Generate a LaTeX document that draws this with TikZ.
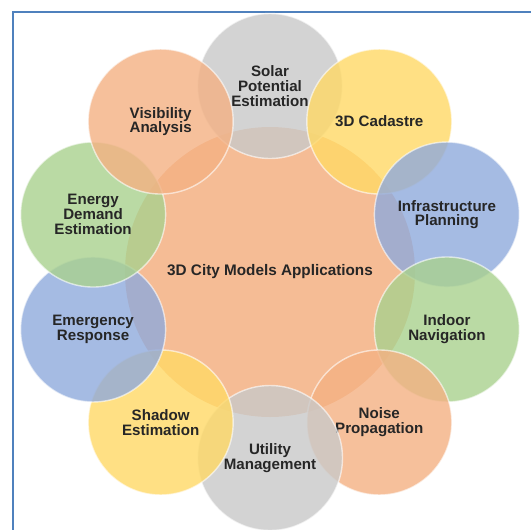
\documentclass[tikz,border=0pt]{standalone}
\usepackage{fontspec}
\setmainfont{Liberation Sans}
\usetikzlibrary{shapes.geometric}
\definecolor{appOrange}{HTML}{F4B183}
\definecolor{appGray}{HTML}{C9C9C9}
\definecolor{appYellow}{HTML}{FFD966}
\definecolor{appBlue}{HTML}{8FAADC}
\definecolor{appGreen}{HTML}{A9D18E}
\definecolor{frameBlue}{HTML}{4F81BD}
\definecolor{txt}{HTML}{262626}
\tikzstyle{hub} = [circle, minimum size=5.8cm, inner sep=0pt, fill=appOrange, fill opacity=0.85, text opacity=1, text=txt, font=\bfseries\fontsize{8.7}{8.4}\selectfont]
\tikzstyle{app} = [circle, minimum size=2.9cm, inner sep=0pt, align=center, fill opacity=0.8, text opacity=1, draw=white, draw opacity=0.6, line width=0.8pt, text=txt, font=\bfseries\fontsize{8.6}{8.4}\selectfont]
\tikzstyle{frame} = [draw=frameBlue, line width=1.2pt]

\begin{document}
\begin{tikzpicture}
        \useasboundingbox (-5.4,-5.14) rectangle (5.22,5.44);
        \clip (-5.4,-5.14) rectangle (5.22,5.44);
        \fill[white] (-5.4,-5.14) rectangle (5.22,5.44);
        \draw [frame] (-5.14,-6) rectangle (6,5.2);
        \node (hub) [hub] at (0,0) {3D City Models Applications};
        \node (solar) [app, fill=appGray] at (90:3.72) {Solar\\Potential\\Estimation};
        \node (cadastre) [app, fill=appYellow] at (54:3.72) {3D Cadastre};
        \node (infra) [app, fill=appBlue] at (18:3.72) {Infrastructure\\Planning};
        \node (indoor) [app, fill=appGreen] at (-18:3.72) {Indoor\\Navigation};
        \node (noise) [app, fill=appOrange] at (-54:3.72) {Noise\\Propagation};
        \node (utility) [app, fill=appGray] at (-90:3.72) {Utility\\Management};
        \node (shadow) [app, fill=appYellow] at (-126:3.72) {Shadow\\Estimation};
        \node (emergency) [app, fill=appBlue] at (-162:3.72) {Emergency\\Response};
        \node (energy) [app, fill=appGreen] at (162:3.72) {Energy\\Demand\\Estimation};
        \node (visibility) [app, fill=appOrange] at (126:3.72) {Visibility\\Analysis};

    \end{tikzpicture}
\end{document}
